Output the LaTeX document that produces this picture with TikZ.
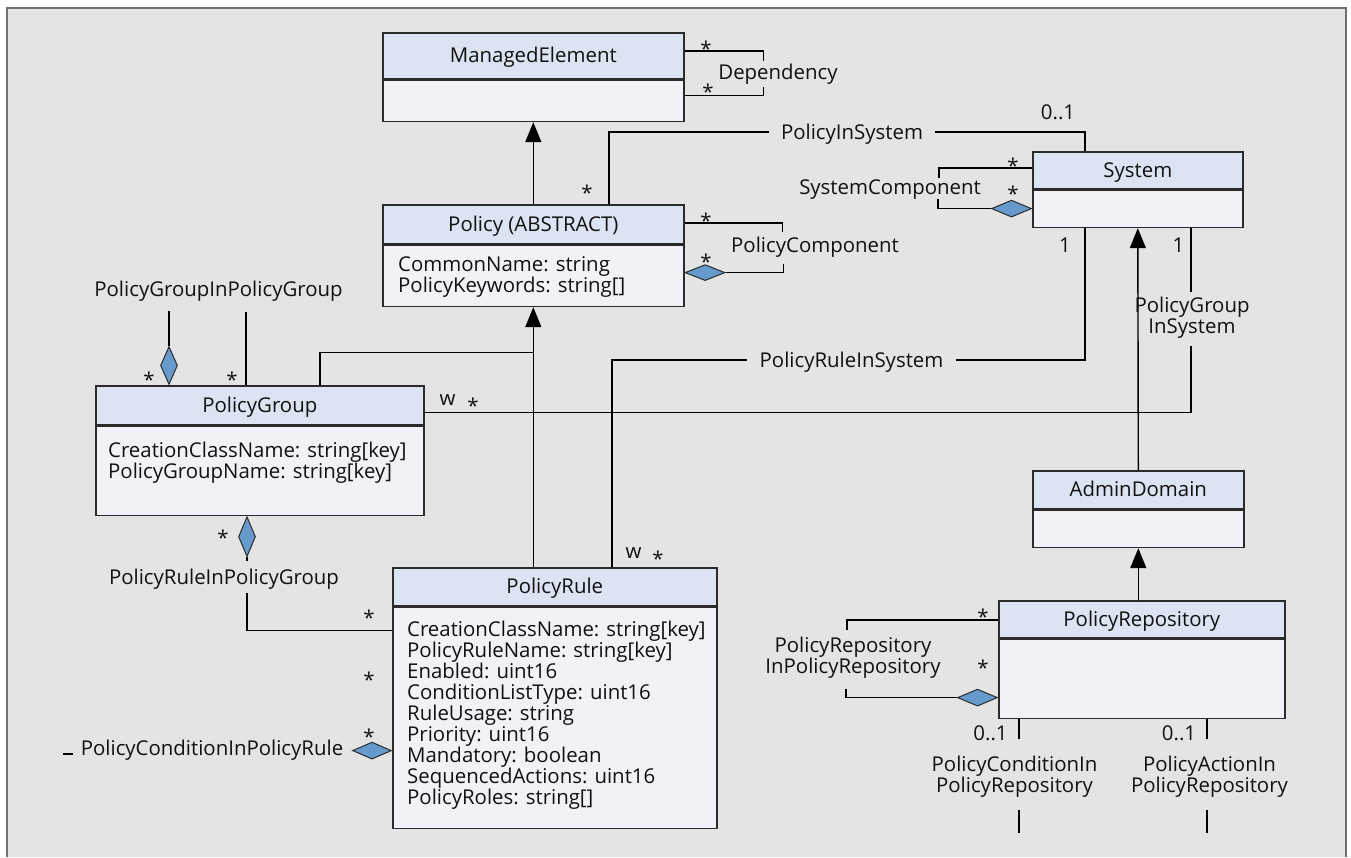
\documentclass[tikz,border=0pt]{standalone}
\usepackage{fontspec}
\setmainfont{Open Sans}
\usetikzlibrary{shapes.geometric,arrows.meta,calc}
\definecolor{framegray}{HTML}{707070}
\definecolor{bggray}{HTML}{E4E4E4}
\definecolor{hdrfill}{HTML}{DCE3F2}
\definecolor{bodyfill}{HTML}{F1F2F8}
\definecolor{boxline}{HTML}{2B2B2B}
\definecolor{aggfill}{HTML}{6699CC}
\definecolor{ink}{HTML}{111111}
\tikzset{
  hdr/.style={draw=boxline, fill=hdrfill, line width=1.6pt, anchor=north west, inner sep=0pt,
              text height=14.3pt, text depth=0pt},
  bodybox/.style={draw=boxline, fill=bodyfill, line width=1.6pt, anchor=north west, inner sep=0pt},
  attr/.style={align=left, anchor=north west, inner sep=0pt},
  conn/.style={draw=black, line width=1.4pt},
  gen/.style={conn, -{Triangle[length=20pt,width=16pt]}},
  agg/.style={diamond, draw=boxline, fill=aggfill, line width=1pt, inner sep=0pt},
  lbl/.style={inner sep=0pt, text height=14.3pt, text depth=0pt},
  mlbl/.style={inner sep=0pt, align=center},
  mult/.style={inner sep=0pt, anchor=base},
  mstar/.style={inner sep=0pt, anchor=base, yshift=-12pt}
}
\begin{document}
\begin{tikzpicture}[x=1pt, y=-1pt,
  every node/.append style={font=\fontsize{20.4}{21}\selectfont, text=ink}]
% canvas and frame
\fill[white] (0,0) rectangle (1351,857);
\useasboundingbox (0,0) rectangle (1351,857);
\fill[bggray] (7,8) rectangle (1346,857);
\draw[framegray, line width=2pt] (7,857) -- (7,8) -- (1346,8) -- (1346,857);

% ---------- classes ----------
\node[hdr, minimum width=301pt, minimum height=46pt] (meh) at (382,32) {ManagedElement};
\node[bodybox, minimum width=301pt, minimum height=41pt] (meb) at (meh.south west) {};

\node[hdr, minimum width=301pt, minimum height=39pt] (polh) at (382,204) {Policy (ABSTRACT)};
\node[bodybox, minimum width=301pt, minimum height=61pt] (polb) at (polh.south west) {};
\node[attr] (pola) at (398,256) {CommonName: string\\PolicyKeywords: string[]};

\node[hdr, minimum width=210pt, minimum height=37pt] (sysh) at (1032,151) {System};
\node[bodybox, minimum width=210pt, minimum height=37pt] (sysb) at (sysh.south west) {};

\node[hdr, minimum width=328pt, minimum height=39pt] (pgh) at (95,385) {PolicyGroup};
\node[bodybox, minimum width=328pt, minimum height=89pt] (pgb) at (pgh.south west) {};
\node[attr] (pga) at (108,442) {CreationClassName: string[key]\\PolicyGroupName: string[key]};

\node[hdr, minimum width=324pt, minimum height=38pt] (prh) at (392,567) {PolicyRule};
\node[bodybox, minimum width=324pt, minimum height=221pt] (prb) at (prh.south west) {};
\node[attr] (pra) at (407,621) {CreationClassName: string[key]\\PolicyRuleName: string[key]\\Enabled: uint16\\ConditionListType: uint16\\RuleUsage: string\\Priority: uint16\\Mandatory: boolean\\SequencedActions: uint16\\PolicyRoles: string[]};

\node[hdr, minimum width=211pt, minimum height=38pt] (adh) at (1032,470) {AdminDomain};
\node[bodybox, minimum width=211pt, minimum height=37pt] (adb) at (adh.south west) {};

\node[hdr, minimum width=286pt, minimum height=37pt] (prph) at (998,600) {PolicyRepository};
\node[bodybox, minimum width=286pt, minimum height=79pt] (prpb) at (prph.south west) {};

% ---------- inheritance ----------
\draw[gen] (polh.north) -- (meb.south);
\draw[gen] (prh.north -| polb.south) -- (polb.south);
\coordinate (pgj) at ($(polb.south)+(0,45)$);
\draw[conn] ($(pgh.north west)+(225,0)$) |- (pgj);
\draw[gen] (adh.north) -- (sysb.south);
\draw[gen] (prph.north -| adb.south) -- (adb.south);

% ---------- Dependency ----------
\draw[conn] ($(meh.north east)+(0,19)$) -- ++(79,0) -- ++(0,10);
\draw[conn] ($(meb.north east)+(0,16)$) -- ++(79,0) -- ++(0,-9);
\node[lbl] (dep) at (778,72) {Dependency};
\node[mstar] (depm1) at (706,44) {*};
\node[mstar] (depm2) at (708,87.5) {*};

% ---------- PolicyInSystem ----------
\node[lbl, inner xsep=12pt] (pis) at (852,132) {PolicyInSystem};
\draw[conn] ($(polh.north west)+(227,0)$) |- (pis.west);
\draw[conn] (pis.east) -| ($(sysh.north west)+(53,0)$);
\node[mult] (pism1) at (1058,119) {0..1};
\node[mstar] (pism2) at (587,188) {*};

% ---------- PolicyComponent ----------
\draw[conn] ($(polh.north east)+(0,19)$) -- ++(98,0) -- ++(0,9);
\node[agg, minimum width=40pt, minimum height=16pt, anchor=west] (pcd) at ($(polb.north east)+(0,28)$) {};
\draw[conn] (pcd.east) -- ++(58,0) -- ++(0,-9);
\node[lbl] (pcl) at (815,245) {PolicyComponent};
\node[mstar] (pcm1) at (706,216) {*};
\node[mstar] (pcm2) at (706,257) {*};

% ---------- SystemComponent ----------
\draw[conn] ($(sysh.north west)+(0,17)$) -- ++(-93,0) -- ++(0,10);
\node[agg, minimum width=40pt, minimum height=17pt, anchor=east] (scd) at ($(sysb.north west)+(0,19)$) {};
\draw[conn] (scd.west) -- ++(-53,0) -- ++(0,-10);
\node[lbl] (scl) at (890,187) {SystemComponent};
\node[mstar] (scm1) at (1013,161) {*};
\node[mstar] (scm2) at (1013,189) {*};

% ---------- PolicyGroupInPolicyGroup ----------
\node[agg, minimum width=17pt, minimum height=38pt, anchor=south] (ggd) at ($(pgh.north west)+(74,0)$) {};
\coordinate (ggA) at ($(ggd.north)+(0,-35)$);
\draw[conn] (ggd.north) -- (ggA);
\coordinate (ggB) at ($(pgh.north west)+(151,-73)$);
\draw[conn] ($(pgh.north west)+(151,0)$) -- (ggB);
\node[lbl] (ggl) at (218.5,289) {PolicyGroupInPolicyGroup};
\node[mstar] (ggm1) at (149,375) {*};
\node[mstar] (ggm2) at (232,375) {*};

% ---------- PolicyGroupInSystem ----------
\node[mlbl, anchor=north] (pgsl) at (1192,297) {PolicyGroup\\InSystem};
\draw[conn] ($(pgh.south east)+(0,-13)$) -| ($(sysb.south west)+(159,118)$);
\draw[conn] ($(sysb.south west)+(159,0)$) -- ++(0,64);
\node[mult] (pgsm1) at (447.5,405) {w};
\node[mstar] (pgsm2) at (473,401) {*};
\node[mult] (pgsm3) at (1178.5,252) {1};

% ---------- PolicyRuleInSystem ----------
\node[lbl, inner xsep=12pt] (pris) at (851.5,360) {PolicyRuleInSystem};
\draw[conn] ($(prh.north west)+(220,0)$) |- (pris.west);
\draw[conn] (pris.east) -| ($(sysb.south west)+(53,0)$);
\node[mult] (prism1) at (1065,252) {1};
\node[mult] (prism2) at (633.5,558) {w};
\node[mstar] (prism3) at (658,554) {*};

% ---------- PolicyRuleInPolicyGroup ----------
\node[agg, minimum width=17pt, minimum height=40pt, anchor=north] (rgd) at ($(pgb.south west)+(152,0)$) {};
\node[lbl, inner ysep=9pt] (rgl) at (224,577) {PolicyRuleInPolicyGroup};
\draw[conn] (rgd.south) -- (rgd.south |- rgl.north);
\draw[conn] (rgd.south |- rgl.south) |- ($(prb.north west)+(0,24)$);
\node[mstar] (rgm1) at (223,533) {*};
\node[mstar] (rgm2) at (369,613) {*};

% ---------- PolicyConditionInPolicyRule ----------
\node[agg, minimum width=39pt, minimum height=17pt, anchor=east] (crd) at ($(prb.north west)+(0,144)$) {};
\node[lbl] (crl) at (212,748) {PolicyConditionInPolicyRule};
\coordinate (crA) at (63,754);
\coordinate (crB) at (73,754);
\draw[conn] (crA) -- (crB);
\node[mstar] (crm1) at (369,675.5) {*};
\node[mstar] (crm2) at (369,732.5) {*};

% ---------- PolicyRepositoryInPolicyRepository ----------
\draw[conn] ($(prph.north west)+(0,20)$) -- ++(-151,0) -- ++(0,10);
\node[agg, minimum width=40pt, minimum height=17pt, anchor=east] (rrd) at ($(prpb.north west)+(0,59)$) {};
\draw[conn] (rrd.west) -- ++(-111,0) -- ++(0,-9);
\node[mlbl, anchor=north] (rrl) at (853,637) {PolicyRepository\\InPolicyRepository};
\node[mstar] (rrm1) at (983,612) {*};
\node[mstar] (rrm2) at (983,663) {*};

% ---------- PolicyConditionInPolicyRepository ----------
\coordinate (pcTop) at ($(prpb.south west)+(21,0)$);
\node[mlbl, anchor=north] (pcrl) at (1014.5,756) {PolicyConditionIn\\PolicyRepository};
\draw[conn, shorten >=17pt] (pcTop) -- (pcTop |- pcrl.north);
\draw[conn, shorten <=12pt] (pcTop |- pcrl.south) -- ++(0,35);
\node[mult] (pcrm) at (990.5,740) {0..1};

% ---------- PolicyActionInPolicyRepository ----------
\coordinate (paTop) at ($(prpb.south west)+(209,0)$);
\node[mlbl, anchor=north] (parl) at (1209.5,756) {PolicyActionIn\\PolicyRepository};
\draw[conn, shorten >=17pt] (paTop) -- (paTop |- parl.north);
\draw[conn, shorten <=12pt] (paTop |- parl.south) -- ++(0,35);
\node[mult] (parm) at (1179,740) {0..1};
\end{tikzpicture}
\end{document}
